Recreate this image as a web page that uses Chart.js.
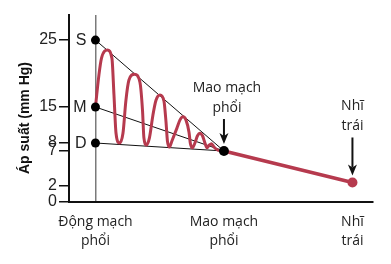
<!DOCTYPE html>
<html>
<head>
<meta charset="utf-8">
<script src="https://cdn.jsdelivr.net/npm/chart.js@4.4.0/dist/chart.umd.min.js"></script>
<style>
  html, body { margin: 0; padding: 0; background: #fff; }
</style>
</head>
<body>
<canvas id="pressureChart" width="391" height="264"></canvas>
<script>
// Data
const stationLabels = [['Động mạch', 'phổi'], ['Mao mạch', 'phổi'], ['Nhĩ', 'trái']];
const stationX = [0, 1, 2];
const arterialLabels = ['S', 'M', 'D'];
const arterialPressure = [25, 15, 8];
const capillaryPressure = 7;
const atrialPressure = 2.5;
const yTicks = [0, 2, 7, 8, 15, 25];

// pulsatile trace between the arterial point and the capillaries
const waveX = [0, 0.027, 0.047, 0.093, 0.128, 0.144, 0.16, 0.187, 0.214, 0.237, 0.26, 0.304,
               0.346, 0.366, 0.377, 0.397, 0.42, 0.447, 0.471, 0.502, 0.533, 0.549, 0.56, 0.576,
               0.595, 0.634, 0.658, 0.681, 0.704, 0.728, 0.739, 0.755, 0.774, 0.794, 0.813, 0.833,
               0.852, 0.868, 0.887, 0.903, 0.922, 0.953, 1];
const waveY = [15, 19.8, 22.3, 23.5, 22.3, 16.8, 9.9, 8, 9.9, 16.0, 19.0, 19.9,
               18.7, 14.4, 9.0, 7.75, 9.0, 13.4, 16.0, 16.8, 15.9, 12.1, 8.4, 7.5,
               8.4, 10.9, 12.5, 13.1, 12.5, 10.1, 7.9, 7.4, 8, 9.4, 9.9, 9.4,
               8, 7.4, 7.75, 7.9, 7.5, 7.1, 7];

const RED = '#b63a4e';
const INK = '#222';

// The drawn pressure axis is not evenly spaced, so map values through its tick spacing
const axisKnots = [0, 2, 7, 8, 15, 25, 28.9];
const axisFractions = [0, 0.0856, 0.2727, 0.3155, 0.508, 0.866, 1];

function toFraction(v) {
  for (let i = 1; i < axisKnots.length; i++) {
    if (v <= axisKnots[i] || i === axisKnots.length - 1) {
      const t = (v - axisKnots[i - 1]) / (axisKnots[i] - axisKnots[i - 1]);
      return axisFractions[i - 1] + t * (axisFractions[i] - axisFractions[i - 1]);
    }
  }
}
function fromFraction(f) {
  for (let i = 1; i < axisFractions.length; i++) {
    if (f <= axisFractions[i] || i === axisFractions.length - 1) {
      const t = (f - axisFractions[i - 1]) / (axisFractions[i] - axisFractions[i - 1]);
      return axisKnots[i - 1] + t * (axisKnots[i] - axisKnots[i - 1]);
    }
  }
}

class KnotScale extends Chart.LinearScale {
  getPixelForValue(value) { return this.getPixelForDecimal(toFraction(value)); }
  getValueForPixel(pixel) { return fromFraction(this.getDecimalForPixel(pixel)); }
}
KnotScale.id = 'knot';
KnotScale.defaults = Chart.LinearScale.defaults;
Chart.register(KnotScale);

function arrowDown(ctx, px, tail, tip) {
  ctx.strokeStyle = '#111';
  ctx.fillStyle = '#111';
  ctx.lineWidth = 2;
  ctx.beginPath();
  ctx.moveTo(px, tail);
  ctx.lineTo(px, tip - 8);
  ctx.stroke();
  ctx.beginPath();
  ctx.moveTo(px - 4.5, tip - 11);
  ctx.lineTo(px, tip);
  ctx.lineTo(px + 4.5, tip - 11);
  ctx.lineTo(px, tip - 8);
  ctx.closePath();
  ctx.fill();
}

// letters, callouts and the rotated axis title
const annotate = {
  id: 'annotate',
  afterDatasetsDraw(chart) {
    const { ctx } = chart;
    const xs = chart.scales.x, ys = chart.scales.y;
    ctx.save();
    ctx.fillStyle = INK;
    ctx.font = '16px "Liberation Sans", Arial, sans-serif';
    ctx.textAlign = 'right';
    ctx.textBaseline = 'middle';
    arterialLabels.forEach((t, i) => {
      ctx.fillText(t, xs.getPixelForValue(stationX[0]) - 9, ys.getPixelForValue(arterialPressure[i]) + 1);
    });

    const callouts = [
      { x: stationX[1], y: capillaryPressure, text: stationLabels[1], arrow: 25, dx: 3 },
      { x: stationX[2], y: atrialPressure, text: stationLabels[2], arrow: 38, dx: 0 }
    ];
    ctx.font = '14px "Open Sans", sans-serif';
    ctx.textAlign = 'center';
    callouts.forEach(c => {
      const px = xs.getPixelForValue(c.x);
      const py = ys.getPixelForValue(c.y);
      const tip = py - 7;
      const tail = tip - c.arrow;
      arrowDown(ctx, px, tail, tip);
      ctx.fillStyle = INK;
      ctx.fillText(c.text[1], px + c.dx, tail - 11);
      ctx.fillText(c.text[0], px + c.dx, tail - 31);
    });

    ctx.translate(25, 118);
    ctx.rotate(-Math.PI / 2);
    ctx.font = 'bold 14px "Liberation Sans", Arial, sans-serif';
    ctx.fillStyle = '#111';
    ctx.fillText('Áp suất (mm Hg)', 0, 0);
    ctx.restore();
  }
};

const capillaryPoint = { x: stationX[1], y: capillaryPressure };
const atrialPoint = { x: stationX[2], y: atrialPressure };

const datasets = [
  {
    // arterial S/M/D markers
    data: arterialPressure.map(p => ({ x: stationX[0], y: p })),
    showLine: false, pointRadius: 4.5, pointBackgroundColor: '#000', pointBorderWidth: 0
  },
  {
    data: [capillaryPoint],
    showLine: false, pointRadius: 5, pointBackgroundColor: '#000', pointBorderWidth: 0
  },
  {
    data: [atrialPoint],
    showLine: false, pointRadius: 5, pointBackgroundColor: RED, pointBorderWidth: 0
  },
  {
    data: waveX.map((x, i) => ({ x: x, y: waveY[i] })),
    borderColor: RED, borderWidth: 3, pointRadius: 0,
    cubicInterpolationMode: 'monotone', borderCapStyle: 'round', borderJoinStyle: 'round'
  },
  {
    data: [capillaryPoint, atrialPoint],
    borderColor: RED, borderWidth: 3.5, pointRadius: 0, borderCapStyle: 'round'
  }
];
// thin envelope lines from each arterial point to the capillaries
arterialPressure.forEach(p => {
  datasets.push({
    data: [{ x: stationX[0], y: p }, capillaryPoint],
    borderColor: '#111', borderWidth: 1, pointRadius: 0
  });
});

new Chart(document.getElementById('pressureChart'), {
  type: 'line',
  data: { datasets: datasets },
  options: {
    responsive: false,
    animation: false,
    layout: { padding: { top: 15, right: 18, left: 0, bottom: 0 } },
    plugins: { legend: { display: false }, tooltip: { enabled: false } },
    scales: {
      x: {
        type: 'linear',
        min: -0.206,
        max: 2.16,
        afterFit: s => { s.height = 62; },
        afterBuildTicks: s => { s.ticks = stationX.map(v => ({ value: v })); },
        border: { display: true, color: '#111', width: 2 },
        grid: {
          drawTicks: false,
          color: c => (c.tick && c.tick.value === stationX[0]) ? '#7a7a7a' : 'rgba(0,0,0,0)',
          lineWidth: 1.5
        },
        ticks: {
          padding: 11,
          color: INK,
          font: { family: '"Open Sans", sans-serif', size: 14, lineHeight: 1.35 },
          maxRotation: 0,
          autoSkip: false,
          callback: v => stationLabels[stationX.indexOf(v)]
        }
      },
      y: {
        type: 'knot',
        min: 0,
        max: 28.9,
        afterFit: s => { s.width = 69; },
        afterBuildTicks: s => { s.ticks = yTicks.map(v => ({ value: v })); },
        border: { display: true, color: '#111', width: 2 },
        grid: { drawOnChartArea: false, drawTicks: true, tickLength: 10, color: '#111', lineWidth: 1.5 },
        ticks: {
          padding: 2,
          color: INK,
          font: { family: '"Liberation Sans", Arial, sans-serif', size: 16 },
          autoSkip: false,
          callback: v => String(v)
        }
      }
    }
  },
  plugins: [annotate]
});
</script>
</body>
</html>
